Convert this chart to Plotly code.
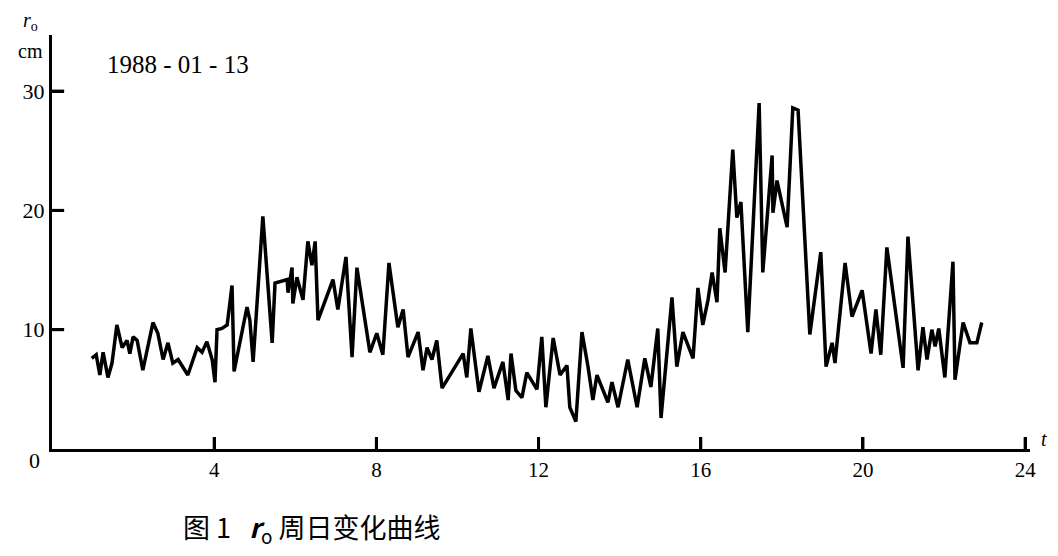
import plotly.graph_objects as go

# hours of day (t) and r0 values (cm)
hours = [0.98, 1.09, 1.18, 1.26, 1.38, 1.48, 1.60, 1.73, 1.85, 1.92, 2.00, 2.10, 2.24, 2.49, 2.61, 2.74,
         2.86, 2.98, 3.11, 3.35, 3.58, 3.70, 3.82, 3.95, 4.02, 4.07, 4.19, 4.32, 4.44, 4.49, 4.81, 4.88,
         4.96, 5.20, 5.43, 5.50, 5.80, 5.82, 5.92, 5.94, 6.04, 6.19, 6.31, 6.41, 6.49, 6.56, 6.93, 7.05,
         7.25, 7.40, 7.52, 7.84, 8.01, 8.16, 8.31, 8.53, 8.66, 8.78, 9.03, 9.15, 9.25, 9.37, 9.49, 9.62,
         10.14, 10.23, 10.33, 10.53, 10.75, 10.90, 11.12, 11.25, 11.32, 11.44, 11.59, 11.71, 11.96, 12.08,
         12.18, 12.36, 12.53, 12.70, 12.77, 12.92, 13.07, 13.22, 13.34, 13.44, 13.71, 13.81, 13.96, 14.20,
         14.43, 14.62, 14.77, 14.94, 15.02, 15.29, 15.41, 15.56, 15.81, 15.93, 16.05, 16.18, 16.28, 16.40,
         16.47, 16.60, 16.79, 16.89, 16.99, 17.16, 17.44, 17.53, 17.76, 17.78, 17.88, 18.13, 18.27, 18.40,
         18.69, 18.96, 19.09, 19.24, 19.31, 19.56, 19.73, 19.98, 20.20, 20.32, 20.44, 20.59, 20.99, 21.11,
         21.36, 21.48, 21.58, 21.70, 21.78, 21.87, 22.02, 22.22, 22.27, 22.47, 22.64, 22.81, 22.93]
r0 = [7.6, 7.9, 6.2, 8.1, 6.0, 7.2, 10.4, 8.5, 9.1, 8.0, 9.4, 9.1, 6.6, 10.6, 9.7, 7.5,
      8.9, 7.2, 7.5, 6.2, 8.5, 8.1, 9.0, 7.5, 5.6, 10.0, 10.1, 10.4, 13.7, 6.5, 11.9, 10.8,
      7.3, 19.5, 8.9, 13.9, 14.2, 13.1, 15.2, 12.2, 14.4, 12.5, 17.4, 15.4, 17.4, 10.8, 14.2, 11.7,
      16.1, 7.7, 15.2, 8.1, 9.7, 7.9, 15.6, 10.2, 11.7, 7.7, 9.8, 6.6, 8.5, 7.5, 9.1, 5.1,
      8.0, 6.0, 10.1, 4.8, 7.8, 5.1, 7.3, 4.1, 8.0, 4.9, 4.3, 6.4, 5.0, 9.4,
      3.5, 9.3, 6.2, 7.0, 3.5, 2.3, 9.8, 6.9, 4.1, 6.2, 3.9, 5.6, 3.5, 7.5,
      3.5, 7.6, 5.2, 10.1, 2.6, 12.7, 6.9, 9.8, 7.6, 13.5, 10.4, 12.5, 14.8, 12.3,
      18.5, 14.8, 25.1, 19.4, 20.7, 9.8, 29.0, 14.8, 24.6, 19.8, 22.5, 18.6, 28.6, 28.4,
      9.6, 16.5, 6.9, 8.9, 7.2, 15.6, 11.1, 13.3, 8.0, 11.7, 7.9, 16.9, 6.8, 17.8,
      6.6, 10.2, 7.5, 10.0, 8.6, 10.1, 6.0, 15.7, 5.8, 10.6, 8.9, 8.9, 10.6]

x_ticks = [4, 8, 12, 16, 20, 24]
y_ticks = [10, 20, 30]
date_label = "1988 - 01 - 13"
nb = "\u00a0"
caption = "图" + nb + "1" + nb * 3 + "<b><i>r</i></b><sub>o</sub>" + nb + "周日变化曲线"

serif = "Liberation Serif"

fig = go.Figure()
fig.add_trace(go.Scatter(x=hours, y=r0, mode="lines",
                         line=dict(color="black", width=3.5), showlegend=False,
                         hoverinfo="skip"))

# inward tick marks drawn from the tick arrays (length ~12 px)
xt_x, xt_y = [], []
for v in x_ticks:
    xt_x += [v, v, None]
    xt_y += [0, 1.0, None]
fig.add_trace(go.Scatter(x=xt_x, y=xt_y, mode="lines", line=dict(color="black", width=3),
                         showlegend=False, hoverinfo="skip", cliponaxis=False))
yt_x, yt_y = [], []
for v in y_ticks:
    yt_x += [0, 0.3, None]
    yt_y += [v, v, None]
fig.add_trace(go.Scatter(x=yt_x, y=yt_y, mode="lines", line=dict(color="black", width=3),
                         showlegend=False, hoverinfo="skip", cliponaxis=False))

fig.update_layout(
    width=1050, height=548,
    margin=dict(l=44, r=28, t=27, b=107),
    paper_bgcolor="white", plot_bgcolor="white",
    font=dict(family=serif, color="black", size=20),
    xaxis=dict(range=[0, 24.12], tickvals=x_ticks, ticktext=[str(v) for v in x_ticks],
               ticks="inside", ticklen=12, tickwidth=3, tickcolor="black",
               showline=True, linecolor="black", linewidth=3, showgrid=False,
               zeroline=False, automargin=False, tickfont=dict(family=serif, size=21)),
    yaxis=dict(range=[0, 34.7], tickvals=y_ticks, ticktext=[str(v) for v in y_ticks],
               ticks="inside", ticklen=12, tickwidth=3, tickcolor="black",
               showline=True, linecolor="black", linewidth=3, showgrid=False,
               zeroline=False, automargin=False, tickfont=dict(family=serif, size=22)),
    annotations=[
        dict(text=date_label, xref="paper", yref="paper", x=0.054, y=0.928,
             xanchor="left", yanchor="middle", showarrow=False,
             font=dict(family=serif, size=25)),
        dict(text="<i>r</i><sub>o</sub>", xref="paper", yref="paper", x=-0.022, y=1.032,
             xanchor="center", yanchor="middle", showarrow=False,
             font=dict(family=serif, size=20)),
        dict(text="cm", xref="paper", yref="paper", x=-0.022, y=0.962,
             xanchor="center", yanchor="middle", showarrow=False,
             font=dict(family=serif, size=20)),
        dict(text="0", xref="paper", yref="paper", x=-0.018, y=-0.027,
             xanchor="center", yanchor="middle", showarrow=False,
             font=dict(family=serif, size=22)),
        dict(text="<i>t</i>", xref="paper", yref="paper", x=1.014, y=0.025,
             xanchor="center", yanchor="middle", showarrow=False,
             font=dict(family=serif, size=20)),
        dict(text=caption, xref="paper", yref="paper", x=0.265, y=-0.191,
             xanchor="center", yanchor="middle", showarrow=False,
             font=dict(family="Noto Sans CJK SC", size=27)),
    ],
)

fig.write_html("out.html")
